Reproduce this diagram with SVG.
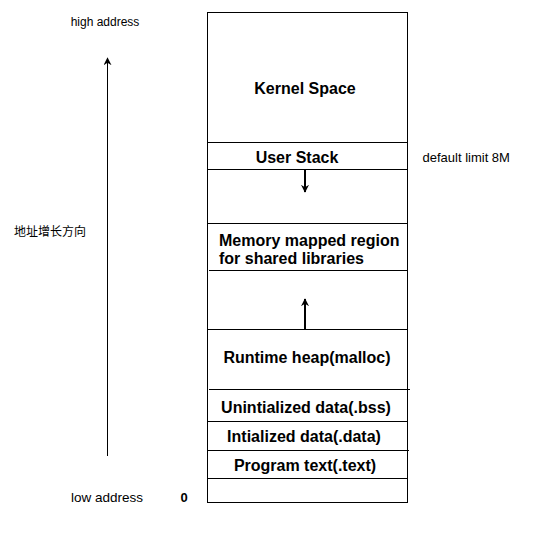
<svg xmlns="http://www.w3.org/2000/svg" width="560" height="538" viewBox="0 0 560 538">
<defs>
<style>
.box{fill:#fff;stroke:#000;stroke-width:1}
.ln{stroke:#000;stroke-width:1;fill:none}
.lbl{font-family:"Liberation Sans",Arial,sans-serif;font-weight:bold;font-size:16px;fill:#000}
.sm{font-family:"Liberation Sans",Arial,"Noto Sans CJK SC",sans-serif;font-size:12px;fill:#000}
.sm13{font-size:13px}
.sm135{font-size:13.5px}
.arr{stroke:#000;stroke-width:2;fill:none}
</style>
<marker id="ah2" viewBox="0 0 10 10" refX="9" refY="5" markerWidth="8" markerHeight="8" orient="auto" markerUnits="userSpaceOnUse">
<path d="M0,0 L10,5 L0,10 L3,5 z" fill="#000"/>
</marker>
</defs>
<rect width="560" height="538" fill="#fff"/>
<g id="memory">
<rect class="box" x="207.5" y="12.5" width="200" height="490"/>
</g>
<g id="kernel"><text class="lbl" x="305" y="94" text-anchor="middle">Kernel Space</text></g>
<g id="stack"><line class="ln" x1="207.5" y1="142.5" x2="407.5" y2="142.5"/><text class="lbl" x="297" y="163" text-anchor="middle">User Stack</text></g>
<g id="gap1"><line class="ln" x1="207.5" y1="169.5" x2="407.5" y2="169.5"/></g>
<g id="mmap"><line class="ln" x1="207.5" y1="223.5" x2="407.5" y2="223.5"/><text class="lbl" x="219" y="246">Memory mapped region</text><text class="lbl" x="219" y="264">for shared libraries</text></g>
<g id="gap2"><line class="ln" x1="209" y1="270.5" x2="408" y2="270.5"/></g>
<g id="heap"><line class="ln" x1="207.5" y1="329.5" x2="407.5" y2="329.5"/><text class="lbl" x="307" y="363" text-anchor="middle">Runtime heap(malloc)</text></g>
<g id="bss"><line class="ln" x1="209" y1="389.5" x2="410" y2="389.5"/><text class="lbl" x="306" y="413" text-anchor="middle">Unintialized data(.bss)</text></g>
<g id="data"><line class="ln" x1="207.5" y1="421.5" x2="407.5" y2="421.5"/><text class="lbl" x="304" y="442" text-anchor="middle">Intialized data(.data)</text></g>
<g id="text"><line class="ln" x1="207.5" y1="450.5" x2="409" y2="450.5"/><text class="lbl" x="305" y="471" text-anchor="middle">Program text(.text)</text></g>
<g id="bottom"><line class="ln" x1="207.5" y1="478.5" x2="407.5" y2="478.5"/></g>
<g id="connectors">
<line class="arr" x1="305" y1="170" x2="305" y2="192" marker-end="url(#ah2)"/>
<line class="arr" x1="305" y1="329" x2="305" y2="299" marker-end="url(#ah2)"/>
<line class="ln" x1="107.5" y1="456" x2="107.5" y2="58" marker-end="url(#ah2)"/>
</g>
<g id="labels">
<text class="sm" x="105" y="26" text-anchor="middle">high address</text>
<text class="sm" x="14" y="236">地址增长方向</text>
<text class="sm sm135" x="71" y="502">low address</text>
<text class="sm sm13" x="180.5" y="502" font-weight="bold">0</text>
<text class="sm sm13" x="422.5" y="162">default limit 8M</text>
</g>
</svg>
